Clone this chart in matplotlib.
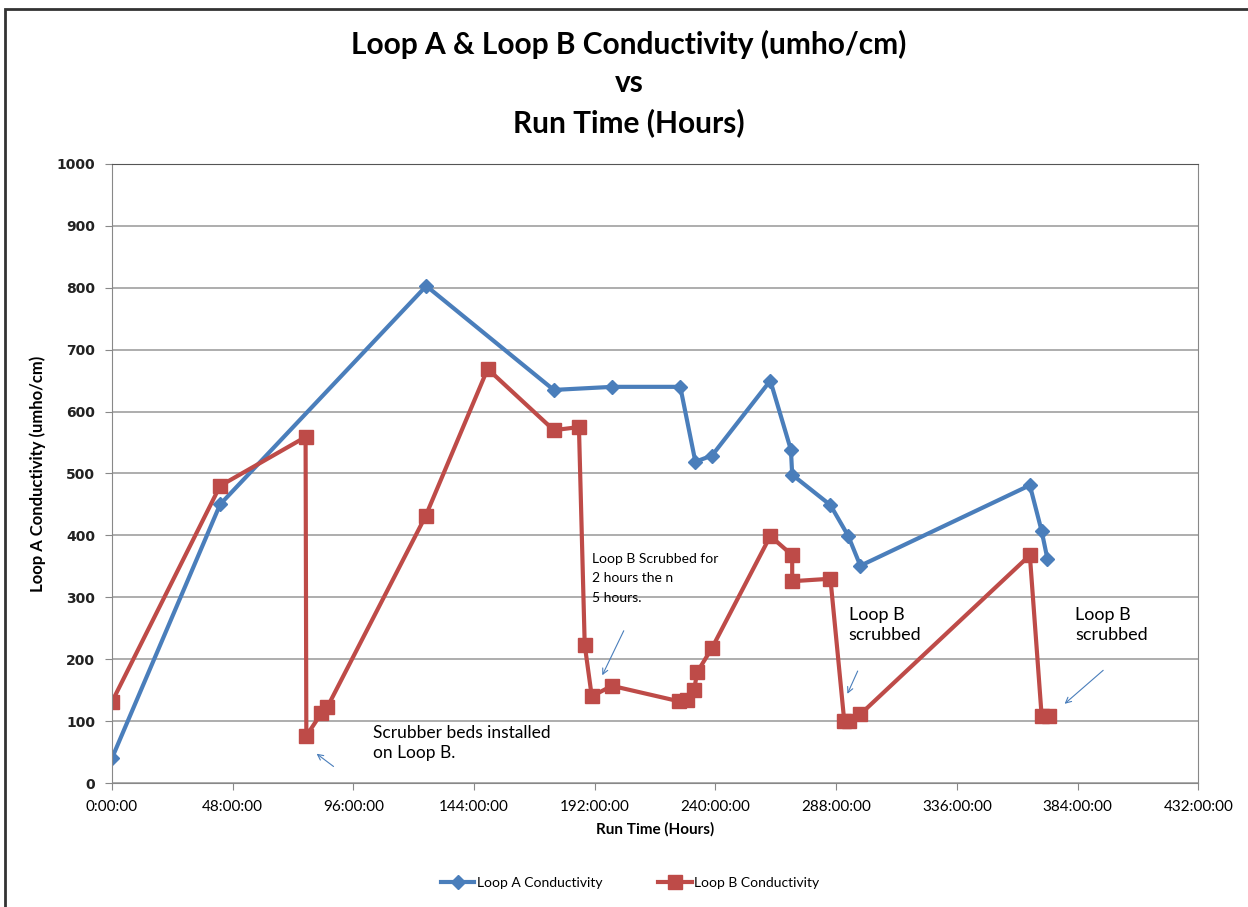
import matplotlib.pyplot as plt
from matplotlib.patches import Rectangle
from matplotlib.ticker import FuncFormatter, MultipleLocator

# run time in hours
loop_a_hours = [0, 43, 125, 175.7, 199, 226, 232, 238.6, 261.8, 270, 270.5, 285.7, 292.8, 297.6, 365, 369.7, 372]
loop_a_cond = [40, 450, 803, 635, 640, 640, 519, 529, 650, 538, 498, 449, 399, 351, 481, 407, 362]

loop_b_hours = [0, 43, 77, 77.3, 83.3, 85.7, 124.7, 149.4, 175.7, 185.7, 188, 190.8, 198.8,
                225.5, 228.7, 231.5, 232.7, 238.6, 261.8, 270.5, 270.5, 285.7, 291.2, 293.2,
                297.6, 365, 369.7, 372.5]
loop_b_cond = [131, 480, 559, 76, 113, 123, 431, 669, 570, 575, 223, 140, 157,
               132, 134, 150, 179, 218, 399, 368, 326, 330, 100, 100,
               111, 368, 108, 108]

y_ticks = list(range(0, 1001, 100))

blue = '#4a7ebb'
red = '#be4b48'
font = 'Lato'

fig = plt.figure(figsize=(12.48, 9.07), dpi=100)
ax = fig.add_axes([0.0897, 0.1367, 0.8705, 0.6825])

ax.plot(loop_a_hours, loop_a_cond, color=blue, lw=3, marker='D', ms=7, label='Loop A Conductivity')
ax.plot(loop_b_hours, loop_b_cond, color=red, lw=3, marker='s', ms=10, label='Loop B Conductivity')

ax.set_xlim(0, 432)
ax.set_ylim(0, 1000)
ax.xaxis.set_major_locator(MultipleLocator(48))
ax.xaxis.set_major_formatter(FuncFormatter(lambda v, p: '%d:00:00' % v))
ax.set_yticks(y_ticks, [str(v) for v in y_ticks], fontfamily='DejaVu Sans',
              fontweight='bold', fontsize=10, color='#222222')
ax.grid(axis='y', color='#a0a0a0', lw=1.2)
ax.set_axisbelow(True)
for s in ax.spines.values():
    s.set_color('#888888')
ax.spines['top'].set_color('#555555')
ax.tick_params(axis='both', color='#888888', length=5, pad=7)
ax.tick_params(axis='x', labelfontfamily=font, labelsize=11)

ax.set_xlabel('Run Time (Hours)', fontfamily=font, fontweight='bold', fontsize=11, labelpad=6)
ax.set_ylabel('Loop A Conductivity (umho/cm)', fontfamily=font, fontweight='bold', fontsize=12, labelpad=8)

fig.text(0.504, 0.951, 'Loop A & Loop B Conductivity (umho/cm)', ha='center', va='center',
         fontfamily=font, fontweight='bold', fontsize=21.5)
fig.text(0.504, 0.908, 'vs', ha='center', va='center', fontfamily=font, fontweight='bold', fontsize=21.5)
fig.text(0.504, 0.865, 'Run Time (Hours)', ha='center', va='center', fontfamily=font, fontweight='bold', fontsize=21.5)

# notes
ax.text(104, 65, 'Scrubber beds installed\non Loop B.', fontfamily=font, fontsize=12.5,
        va='center', linespacing=1.3)
ax.annotate('', xy=(80.5, 50), xytext=(89, 24),
            arrowprops=dict(arrowstyle='->', color=blue, lw=0.8))
ax.text(191, 372, 'Loop B Scrubbed for\n2 hours the n\n5 hours.', fontfamily=font, fontsize=10,
        va='top', linespacing=1.75)
ax.annotate('', xy=(194.5, 170), xytext=(204, 250),
            arrowprops=dict(arrowstyle='->', color=blue, lw=0.8))
ax.text(293, 255, 'Loop B\nscrubbed', fontfamily=font, fontsize=13, va='center', linespacing=1.3)
ax.annotate('', xy=(292, 140), xytext=(297, 185),
            arrowprops=dict(arrowstyle='->', color=blue, lw=0.8))
ax.text(383, 255, 'Loop B\nscrubbed', fontfamily=font, fontsize=13, va='center', linespacing=1.3)
ax.annotate('', xy=(378, 125), xytext=(395, 185),
            arrowprops=dict(arrowstyle='->', color=blue, lw=0.8))

fig.legend(loc='center', bbox_to_anchor=(0.505, 0.027), ncol=2, frameon=False,
           prop={'family': font, 'size': 10}, handlelength=2.4, handletextpad=0.2,
           columnspacing=4)

fig.patches.append(Rectangle((0.004, -0.01), 1.1, 1.0, transform=fig.transFigure,
                             fill=False, edgecolor='#333333', lw=2))

fig.savefig('out.png', dpi=100)
